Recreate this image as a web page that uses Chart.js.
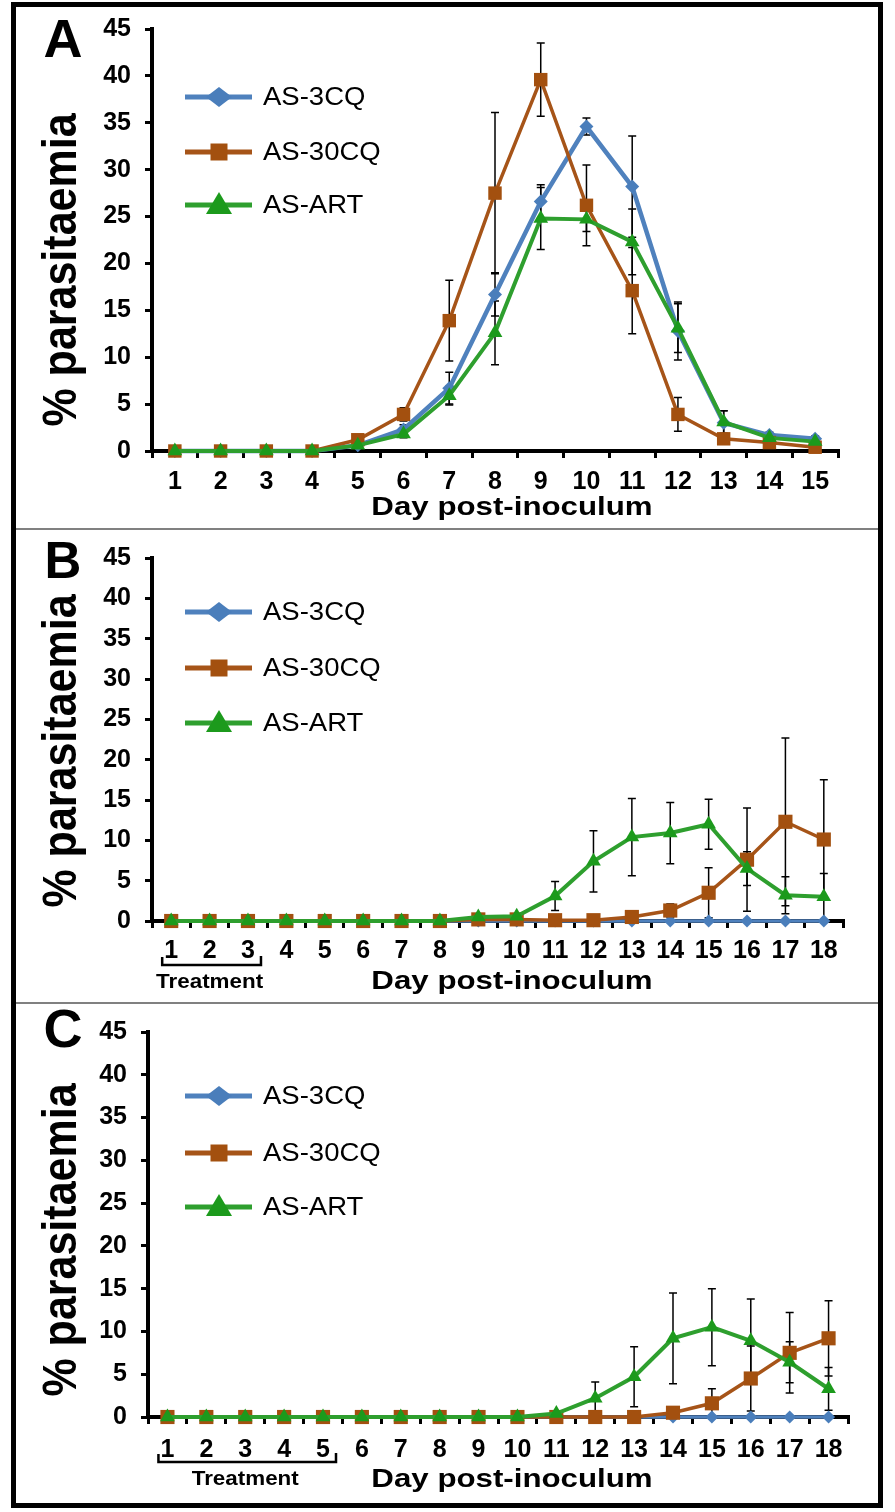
<!DOCTYPE html>
<html>
<head>
<meta charset="utf-8">
<script src="https://cdn.jsdelivr.net/npm/chart.js@4.4.1/dist/chart.umd.min.js"></script>
<style>
  body { margin: 0; background: #fff; }
  #page { position: relative; width: 895px; height: 1512px; overflow: hidden; background: #fff; }
  canvas { position: absolute; left: 0; }
  #frame { position: absolute; left: 11px; top: 2px; width: 872px; height: 1506px; border: 5px solid #000; box-sizing: border-box; pointer-events: none; }
  .divider { position: absolute; left: 16px; width: 862px; height: 2px; background: #808080; }
</style>
</head>
<body>
<div id="page">
  <canvas id="chartA" width="895" height="529" style="top:0"></canvas>
  <canvas id="chartB" width="895" height="474" style="top:529px"></canvas>
  <canvas id="chartC" width="895" height="509" style="top:1003px"></canvas>
  <div class="divider" style="top:528px"></div>
  <div class="divider" style="top:1002px"></div>
  <div id="frame"></div>
</div>
<script>
// ---- data ----
const SERIES_NAMES = ['AS-3CQ', 'AS-30CQ', 'AS-ART'];
const DAYS_A = ['1','2','3','4','5','6','7','8','9','10','11','12','13','14','15'];
const DAYS_BC = ['1','2','3','4','5','6','7','8','9','10','11','12','13','14','15','16','17','18'];
const Y_TICKS = [0, 5, 10, 15, 20, 25, 30, 35, 40, 45];

// panel A
const A_3CQ      = [0, 0, 0, 0, 0.6, 2.3, 6.7, 16.7, 26.6, 34.6, 28.2, 12.8, 3.0, 1.7, 1.3];
const A_3CQ_ERR  = [0, 0, 0, 0, 0.2, 0.5, 1.7, 2.3, 1.8, 0.9, 5.4, 3.1, 1.3, 0.3, 0.3];
const A_30CQ     = [0, 0, 0, 0, 1.2, 3.9, 13.9, 27.5, 39.6, 26.2, 17.1, 3.9, 1.3, 0.9, 0.4];
const A_30CQ_ERR = [0, 0, 0, 0, 0.3, 0.7, 4.3, 8.6, 3.9, 4.3, 4.6, 1.8, 0.3, 0.2, 0.2];
const A_ART      = [0, 0, 0, 0, 0.6, 1.8, 5.9, 12.6, 24.8, 24.7, 22.3, 13.1, 3.1, 1.4, 1.0];
const A_ART_ERR  = [0, 0, 0, 0, 0.2, 0.4, 1.0, 3.4, 3.3, 1.3, 3.5, 2.6, 1.2, 0.3, 0.2];

// panel B
const B_3CQ      = [0, 0, 0, 0, 0, 0, 0, 0, 0, 0, 0, 0, 0, 0, 0, 0, 0, 0];
const B_3CQ_ERR  = [0, 0, 0, 0, 0, 0, 0, 0, 0, 0, 0, 0, 0, 0, 0, 0, 0, 0];
const B_30CQ     = [0, 0, 0, 0, 0, 0, 0, 0, 0.2, 0.2, 0.1, 0.1, 0.5, 1.3, 3.5, 7.6, 12.3, 10.1];
const B_30CQ_ERR = [0, 0, 0, 0, 0, 0, 0, 0, 0, 0, 0, 0, 0.2, 0.8, 3.1, 6.4, 10.4, 7.4];
const B_ART      = [0, 0, 0, 0, 0, 0, 0, 0, 0.5, 0.6, 3.1, 7.4, 10.4, 10.9, 12.0, 6.5, 3.2, 3.0];
const B_ART_ERR  = [0, 0, 0, 0, 0, 0, 0, 0, 0.1, 0.1, 1.8, 3.8, 4.8, 3.8, 3.1, 2.1, 2.3, 2.9];

// panel C
const C_3CQ      = [0, 0, 0, 0, 0, 0, 0, 0, 0, 0, 0, 0, 0, 0, 0, 0, 0, 0];
const C_3CQ_ERR  = [0, 0, 0, 0, 0, 0, 0, 0, 0, 0, 0, 0, 0, 0, 0, 0, 0, 0];
const C_30CQ     = [0, 0, 0, 0, 0, 0, 0, 0, 0, 0, 0, 0, 0, 0.5, 1.6, 4.5, 7.5, 9.2];
const C_30CQ_ERR = [0, 0, 0, 0, 0, 0, 0, 0, 0, 0, 0, 0, 0, 0.2, 1.7, 3.8, 4.7, 4.4];
const C_ART      = [0, 0, 0, 0, 0, 0, 0, 0, 0, 0, 0.4, 2.2, 4.7, 9.2, 10.5, 8.9, 6.4, 3.3];
const C_ART_ERR  = [0, 0, 0, 0, 0, 0, 0, 0, 0, 0, 0.1, 1.9, 3.5, 5.3, 4.5, 4.9, 2.4, 2.5];

// ---- styles ----
const LINE_COLORS = ['#4F81BD', '#A65418', '#2E9F2E'];
const MARKER_COLORS = ['#4A7EBB', '#A3500F', '#1C9A1C'];
const POINT_STYLES = ['rectRot', 'rect', 'triangle'];
const ARIAL = '"Liberation Sans", Arial, sans-serif';
const TICK_FONT = { family: ARIAL, weight: 'bold', size: 25 };

function stretchText(ctx, text, x, y, o) {
  ctx.save();
  ctx.font = o.font;
  ctx.fillStyle = '#000';
  ctx.textAlign = o.align || 'left';
  ctx.textBaseline = o.baseline || 'alphabetic';
  ctx.translate(x, y);
  if (o.rotate) ctx.rotate(o.rotate);
  ctx.scale(o.sx || 1, o.sy || 1);
  ctx.fillText(text, 0, 0);
  ctx.restore();
}

function legendMarker(ctx, style, x, y) {
  ctx.beginPath();
  if (style === 'rectRot') {
    ctx.moveTo(x - 13, y); ctx.lineTo(x, y - 10); ctx.lineTo(x + 13, y); ctx.lineTo(x, y + 10);
  } else if (style === 'rect') {
    ctx.rect(x - 8.5, y - 8.5, 17, 17);
  } else {
    ctx.moveTo(x, y - 13); ctx.lineTo(x + 13, y + 9); ctx.lineTo(x - 13, y + 9);
  }
  ctx.closePath();
  ctx.fill();
}

// error bars, drawn under the lines
const errorBars = {
  id: 'errorBars',
  beforeDatasetsDraw(chart) {
    const ctx = chart.ctx, xs = chart.scales.x, ys = chart.scales.y;
    ctx.save();
    ctx.strokeStyle = '#000';
    ctx.lineWidth = 1.5;
    chart.data.datasets.forEach(ds => {
      ds.data.forEach((v, i) => {
        const e = ds.errors[i];
        if (!e) return;
        const px = xs.getPixelForValue(i);
        const top = ys.getPixelForValue(v + e);
        const low = v - e;
        const bot = ys.getPixelForValue(Math.max(low, 0));
        ctx.beginPath();
        ctx.moveTo(px, top); ctx.lineTo(px, bot);
        ctx.moveTo(px - 4, top); ctx.lineTo(px + 4, top);
        if (low > 0) { ctx.moveTo(px - 4, bot); ctx.lineTo(px + 4, bot); }
        ctx.stroke();
      });
    });
    ctx.restore();
  }
};

// panel letter, axis titles, legend, treatment bracket
const decor = {
  id: 'decor',
  afterDraw(chart, args, o) {
    const ctx = chart.ctx;
    stretchText(ctx, o.letter, 63, o.letterY, { font: 'bold ' + o.letterSize + 'px ' + ARIAL, align: 'center' });
    stretchText(ctx, '% parasitaemia', 76, o.yTitleY, { font: 'bold 43px ' + ARIAL, align: 'center', rotate: -Math.PI / 2, sy: 1.12 });
    stretchText(ctx, 'Day post-inoculum', 512, o.xTitleY, { font: 'bold 25px ' + ARIAL, align: 'center', sx: 1.25 });

    chart.data.datasets.forEach((ds, i) => {
      const y = o.legendY[i];
      ctx.save();
      ctx.strokeStyle = ds.borderColor;
      ctx.lineWidth = 5;
      ctx.beginPath(); ctx.moveTo(185, y); ctx.lineTo(252, y); ctx.stroke();
      ctx.fillStyle = ds.pointBackgroundColor;
      legendMarker(ctx, ds.pointStyle, 219, y);
      ctx.restore();
      stretchText(ctx, ds.label, 263, y + 1, { font: '25px ' + ARIAL, baseline: 'middle', sx: 1.1 });
    });

    if (o.treatDays) {
      const xs = chart.scales.x;
      const x0 = xs.getPixelForValue(0) - 9;
      const x1 = xs.getPixelForValue(o.treatDays - 1) + 13;
      ctx.save();
      ctx.strokeStyle = '#000';
      ctx.lineWidth = 2.5;
      ctx.beginPath();
      ctx.moveTo(x0, o.bracketY - 8); ctx.lineTo(x0, o.bracketY); ctx.lineTo(x1, o.bracketY); ctx.lineTo(x1, o.bracketY - 9);
      ctx.stroke();
      ctx.restore();
      stretchText(ctx, 'Treatment', (x0 + x1) / 2 - 2, o.treatY, { font: 'bold 20px ' + ARIAL, align: 'center', sx: 1.12 });
    }
  }
};

function makePanel(id, labels, series, errs, g) {
  const datasets = series.map((vals, i) => ({
    label: SERIES_NAMES[i],
    data: vals,
    errors: errs[i],
    borderColor: LINE_COLORS[i],
    backgroundColor: MARKER_COLORS[i],
    pointBackgroundColor: MARKER_COLORS[i],
    pointBorderColor: MARKER_COLORS[i],
    pointBorderWidth: 0,
    pointStyle: POINT_STYLES[i],
    pointRadius: g.radii[i],
    borderWidth: g.widths[i],
    tension: 0,
    clip: false,
    order: 2 - i
  }));
  return new Chart(document.getElementById(id), {
    type: 'line',
    data: { labels: labels, datasets: datasets },
    plugins: [errorBars, decor],
    options: {
      responsive: false,
      animation: false,
      devicePixelRatio: 1,
      layout: { padding: { top: g.top, right: g.right, bottom: 0, left: 0 } },
      plugins: {
        legend: { display: false },
        tooltip: { enabled: false },
        decor: g.decor
      },
      scales: {
        x: {
          type: 'category',
          offset: true,
          grid: { offset: true, drawOnChartArea: false, color: '#000', lineWidth: 3, tickLength: 7 },
          border: { color: '#000', width: 4 },
          ticks: { color: '#000', font: TICK_FONT, padding: g.xPad, maxRotation: 0, autoSkip: false },
          afterFit(s) { s.height = g.xHeight; }
        },
        y: {
          min: Y_TICKS[0],
          max: Y_TICKS[Y_TICKS.length - 1],
          afterBuildTicks(s) { s.ticks = Y_TICKS.map(v => ({ value: v })); },
          grid: { drawOnChartArea: false, color: '#000', lineWidth: 3, tickLength: 7 },
          border: { color: '#000', width: 4 },
          ticks: { color: '#000', font: TICK_FONT, padding: 14 },
          afterFit(s) { s.width = g.left; }
        }
      }
    }
  });
}

makePanel('chartA', DAYS_A, [A_3CQ, A_30CQ, A_ART], [A_3CQ_ERR, A_30CQ_ERR, A_ART_ERR], {
  top: 25, right: 57, left: 152, xHeight: 78, xPad: 9,
  radii: [7, 9.5, 8.5], widths: [4.5, 3.5, 4],
  decor: { letter: 'A', letterY: 57, letterSize: 54, yTitleY: 270, xTitleY: 515, legendY: [97, 152, 205] }
});

makePanel('chartB', DAYS_BC, [B_3CQ, B_30CQ, B_ART], [B_3CQ_ERR, B_30CQ_ERR, B_ART_ERR], {
  top: 19, right: 52, left: 152, xHeight: 82, xPad: 8,
  radii: [6.5, 10, 8.5], widths: [3.5, 3.5, 4],
  decor: { letter: 'B', letterY: 578 - 529, letterSize: 51, yTitleY: 751 - 529, xTitleY: 989 - 529,
    legendY: [612 - 529, 668 - 529, 723 - 529], treatDays: 3, bracketY: 965 - 529, treatY: 988 - 529 }
});

makePanel('chartC', DAYS_BC, [C_3CQ, C_30CQ, C_ART], [C_3CQ_ERR, C_30CQ_ERR, C_ART_ERR], {
  top: 24, right: 47, left: 148, xHeight: 95, xPad: 11,
  radii: [6.5, 10, 8.5], widths: [3.5, 3.5, 4],
  decor: { letter: 'C', letterY: 1047 - 1003, letterSize: 54, yTitleY: 1240 - 1003, xTitleY: 1487 - 1003,
    legendY: [1096 - 1003, 1153 - 1003, 1207 - 1003], treatDays: 5, bracketY: 1462 - 1003, treatY: 1485 - 1003 }
});
</script>
</body>
</html>
